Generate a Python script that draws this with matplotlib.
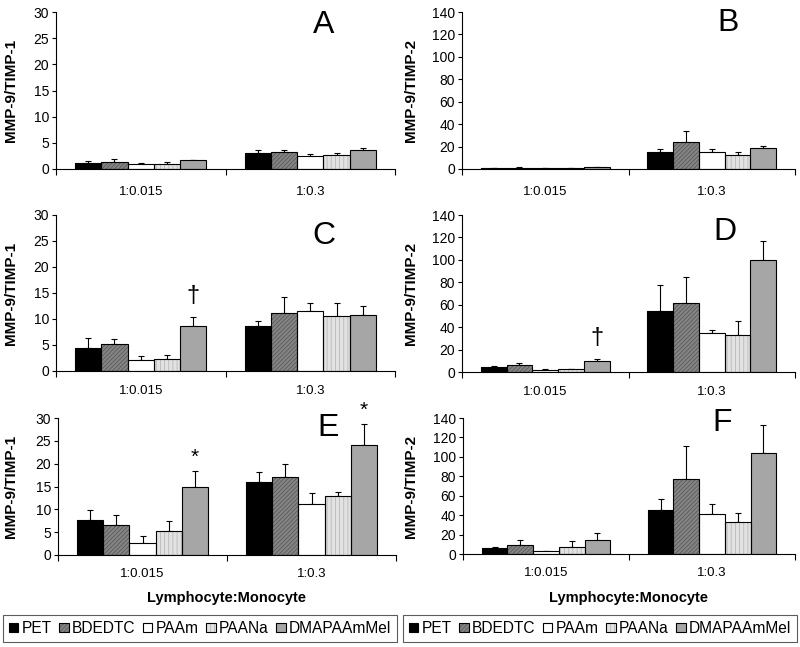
import numpy as np
import matplotlib
matplotlib.use('Agg')
import matplotlib.pyplot as plt
from matplotlib.patches import Patch

plt.rcParams['font.family'] = ['Liberation Sans', 'DejaVu Sans']
plt.rcParams['hatch.linewidth'] = 0.6

# Datos
series = ['PET', 'BDEDTC', 'PAAm', 'PAANa', 'DMAPAAmMel']
ratios = ['1:0.015', '1:0.3']
letters = ['A', 'B', 'C', 'D', 'E', 'F']
ylabels = ['MMP-9/TIMP-1', 'MMP-9/TIMP-2'] * 3
ymax = [30, 140] * 3
ystep = [5, 20] * 3

# medias: filas = relacion linfocito:monocito, columnas = series
mean_a = [[1.15, 1.4, 0.9, 0.95, 1.7], [3.1, 3.3, 2.55, 2.6, 3.55]]
err_a = [[0.35, 0.45, 0.2, 0.4, 0.1], [0.6, 0.4, 0.4, 0.45, 0.45]]
mean_b = [[0.8, 0.9, 0.5, 0.6, 1.5], [15.5, 23.8, 15.5, 12.2, 18.4]]
err_b = [[0.2, 0.6, 0.2, 0.6, 0.3], [2.0, 10.1, 2.0, 3.0, 2.4]]
mean_c = [[4.45, 5.2, 2.1, 2.3, 8.7], [8.6, 11.2, 11.5, 10.6, 10.7]]
err_c = [[1.9, 0.95, 0.85, 0.85, 1.75], [1.0, 3.1, 1.6, 2.5, 1.8]]
mean_d = [[4.5, 6.3, 2.1, 2.4, 9.9], [54.6, 61.8, 34.5, 33.0, 99.6]]
err_d = [[0.9, 1.5, 0.9, 0.6, 2.1], [23.0, 22.8, 3.3, 12.9, 17.0]]
mean_e = [[7.6, 6.5, 2.7, 5.2, 14.9], [15.9, 17.1, 11.2, 12.9, 24.1]]
err_e = [[2.35, 2.35, 1.4, 2.2, 3.5], [2.2, 2.9, 2.3, 0.8, 4.6]]
mean_f = [[6.1, 8.9, 2.7, 7.5, 14.7], [45.7, 76.8, 41.6, 32.8, 104.1]]
err_f = [[1.4, 5.1, 0.7, 5.5, 6.5], [11.0, 34.8, 10.3, 9.9, 29.0]]

means = [mean_a, mean_b, mean_c, mean_d, mean_e, mean_f]
errs = [err_a, err_b, err_c, err_d, err_e, err_f]

# marcas de significacion: (panel, grupo, serie, simbolo)
marks = [(2, 0, 4, '\u2020'), (3, 0, 4, '\u2020'), (4, 0, 4, '*'), (4, 1, 4, '*')]

# estilo de cada serie: relleno, trama, color de trama
faces = ['black', '#858585', 'white', '#e2e2e2', '#a6a6a6']
hatches = [None, '////////', None, '||||', None]
hcolors = ['black', '#5a5a5a', 'white', '#b8b8b8', '#a6a6a6']

# rectangulos de los ejes en pixeles: izquierda, arriba, derecha, abajo
W, H = 800, 647
rects = [(56, 12, 395, 169), (462, 12, 795, 169),
         (56, 215, 395, 371), (462, 215, 795, 372),
         (58, 418, 396, 555), (463, 418, 795, 554)]
letter_pos = [(0.79, 0.92), (0.80, 0.93), (0.79, 0.865),
              (0.79, 0.89), (0.80, 0.93), (0.78, 0.96)]
tick_pads = [12, 12, 10, 10, 9.5, 9.5]

fig = plt.figure(figsize=(W / 100, H / 100), dpi=100)

bw = 0.155
offsets = (np.arange(5) - 2) * bw
xc = np.array([0.5, 1.5])

for i in range(6):
    l, t, r, b = rects[i]
    ax = fig.add_axes([l / W, (H - b) / H, (r - l) / W, (b - t) / H])
    m = np.array(means[i])
    e = np.array(errs[i])
    for s in range(5):
        x = xc + offsets[s]
        ax.bar(x, m[:, s], bw, color=faces[s], hatch=hatches[s],
               edgecolor=hcolors[s], linewidth=0.0, zorder=2)
        ax.bar(x, m[:, s], bw, fill=False, edgecolor='black',
               linewidth=0.8, zorder=3)
        ax.errorbar(x, m[:, s], yerr=[np.zeros(2), e[:, s]], fmt='none',
                    ecolor='black', elinewidth=0.8, capsize=2.5,
                    capthick=0.8, zorder=1)
    for (p, g, s, sym) in marks:
        if p != i:
            continue
        top = m[g, s] + e[g, s]
        dy = 15 if sym != '*' else 10
        fs = 17 if sym != '*' else 15
        ax.annotate(sym, (xc[g] + offsets[s], top), xytext=(0, dy),
                    textcoords='offset points', ha='center', va='center',
                    fontsize=fs, annotation_clip=False)

    ax.set_xlim(0, 2)
    ax.set_ylim(0, ymax[i])
    ax.set_yticks(np.arange(0, ymax[i] + 1, ystep[i]))
    ax.set_xticks([0, 1, 2])
    ax.set_xticklabels([])
    ax.set_xticks(xc, minor=True)
    ax.set_xticklabels(ratios, minor=True, fontsize=9.5)
    ax.tick_params(axis='x', which='minor', length=0, pad=tick_pads[i])
    ax.tick_params(axis='x', which='major', direction='out', length=4, width=0.8)
    ax.tick_params(axis='y', direction='out', length=3, width=0.8,
                   labelsize=10, pad=2)
    for sp in ['top', 'right']:
        ax.spines[sp].set_visible(False)
    for sp in ['left', 'bottom']:
        ax.spines[sp].set_linewidth(0.8)

    ax.set_ylabel(ylabels[i], fontsize=11, fontweight='bold')
    lab_x = 18 if i % 2 == 0 else 418
    ax.yaxis.set_label_coords(lab_x / W, 1 - (t + b) / 2 / H,
                              transform=fig.transFigure)
    ax.text(letter_pos[i][0], letter_pos[i][1], letters[i],
            transform=ax.transAxes, ha='center', va='center', fontsize=23)

    if i >= 4:
        ax.set_xlabel('Lymphocyte:Monocyte', fontsize=10.5, fontweight='bold')
        ax.xaxis.label.set_va('center')
        ax.xaxis.set_label_coords((l + r) / 2 / W, 1 - 598 / H,
                                  transform=fig.transFigure)

# leyendas
handles = []
for s in range(5):
    h1 = Patch(facecolor=faces[s], hatch=hatches[s], edgecolor=hcolors[s],
               linewidth=0.0)
    h2 = Patch(fill=False, edgecolor='black', linewidth=0.8)
    handles.append((h1, h2))

for cx in [200, 600]:
    leg = fig.legend(handles, series, loc='center',
                     bbox_to_anchor=(cx / W, 1 - 628.5 / H), ncol=5,
                     frameon=True, fancybox=False, edgecolor='#333333',
                     fontsize=11.2, handlelength=0.6, handleheight=0.6,
                     handletextpad=0.2, columnspacing=0.5, borderpad=0.4,
                     borderaxespad=0)
    leg.get_frame().set_linewidth(0.8)

fig.savefig('out.png', dpi=100)
